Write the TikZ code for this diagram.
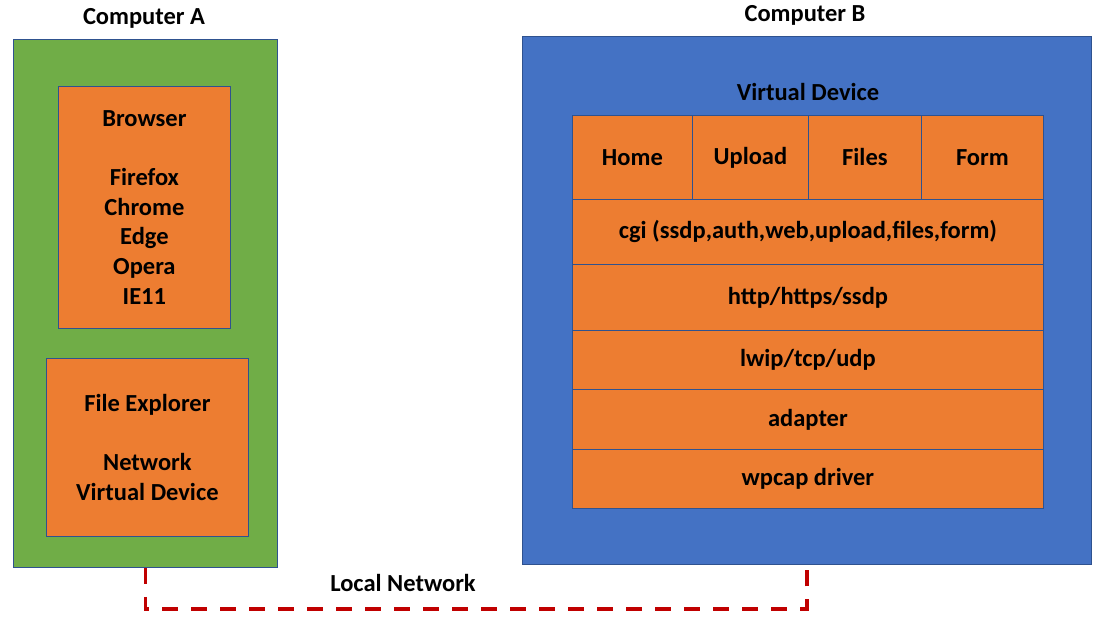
\documentclass[tikz,border=0pt]{standalone}
\usepackage{fontspec}
\setmainfont{Carlito}
\definecolor{pcgreen}{HTML}{70AD47}
\definecolor{pcblue}{HTML}{4472C4}
\definecolor{layer}{HTML}{ED7D31}
\definecolor{edge}{HTML}{2F528F}
\definecolor{netred}{HTML}{C00000}
\begin{document}
\begin{tikzpicture}[
    x=1pt, y=-1pt,
    every node/.style={
        inner sep=0pt, align=center,
        font=\bfseries\fontsize{24.5}{29.6}\selectfont
    },
    box/.style={draw=edge, line width=0.8pt, anchor=north west},
    cell/.style={box, fill=layer},
    net/.style={netred, line width=3.5pt, dash pattern=on 16pt off 13pt}
]
  \useasboundingbox (0,0) rectangle (1106,623);

  % Computer A
  \node (titleA) at (144,18) {Computer A};
  \node[box, fill=pcgreen, minimum width=264pt, minimum height=528pt] (compA) at (13,39) {};
  \node[cell, minimum width=172pt, minimum height=242pt] (browser) at (58,86) {};
  \node (browsertxt) at (browser.center) {Browser\\[29.6pt]Firefox\\Chrome\\Edge\\Opera\\IE11};
  \node[cell, minimum width=202pt, minimum height=178pt] (explorer) at (46,358) {};
  \node (explorertxt) at (explorer.center) {File Explorer\\[29.6pt]Network\\Virtual Device};

  % Computer B
  \node (titleB) at (805,15) {Computer B};
  \node[box, fill=pcblue, minimum width=569pt, minimum height=528pt] (compB) at (522,36) {};
  \node (vdev) at (808,92) {Virtual Device};

  % Pages
  \node[cell, minimum width=120pt, minimum height=84pt] (home)   at (572,115) {Home};
  \node[cell, minimum width=116pt, minimum height=84pt] (upload) at (692,115) {Upload};
  \node[cell, minimum width=113pt, minimum height=84pt] (files)  at (808,115) {Files};
  \node[cell, minimum width=122pt, minimum height=84pt] (form)   at (921,115) {Form};

  % Protocol stack
  \node[cell, minimum width=471pt, minimum height=65pt] (cgi)     at (572,199) {cgi (ssdp,auth,web,upload,files,form)};
  \node[cell, minimum width=471pt, minimum height=66pt] (http)    at (572,264) {http/https/ssdp};
  \node[cell, minimum width=471pt, minimum height=59pt] (lwip)    at (572,330) {lwip/tcp/udp};
  \node[cell, minimum width=471pt, minimum height=60pt] (adapter) at (572,389) {adapter};
  \node[cell, minimum width=471pt, minimum height=59pt] (wpcap)   at (572,449) {wpcap driver};

  % Local network link
  \draw[net] (compA.south) -- ++(0,41) -| (compB.south);
  \node (lan) at (403,583) {Local Network};
\end{tikzpicture}
\end{document}
